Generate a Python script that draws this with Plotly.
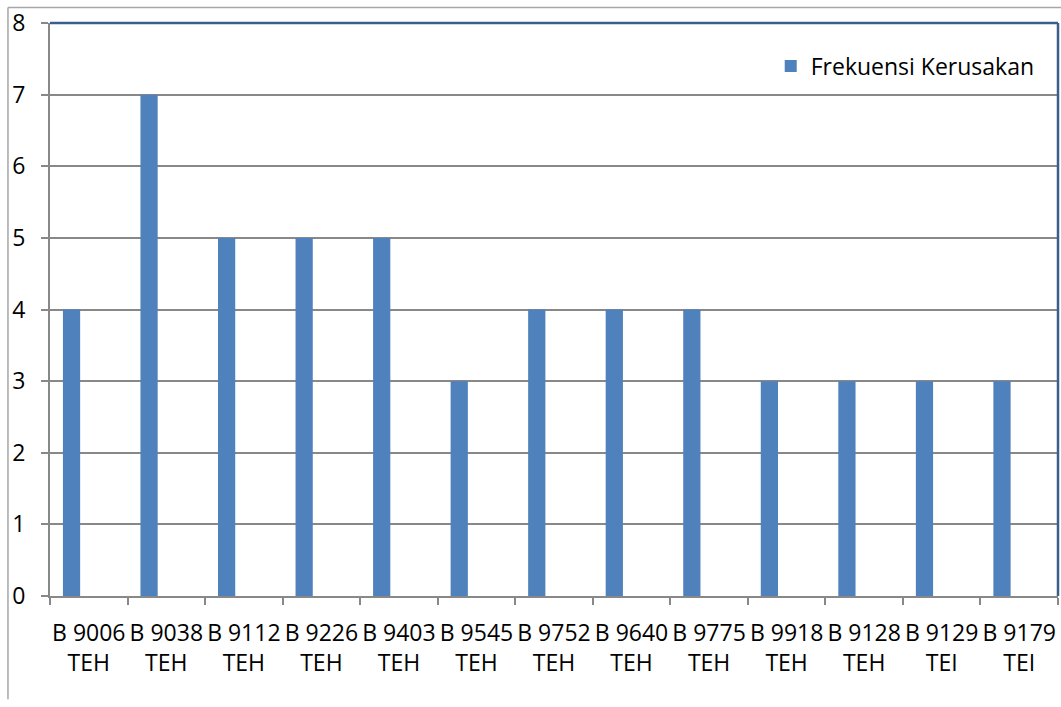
import plotly.graph_objects as go

categories = ["B 9006<br>TEH", "B 9038<br>TEH", "B 9112<br>TEH", "B 9226<br>TEH",
              "B 9403<br>TEH", "B 9545<br>TEH", "B 9752<br>TEH", "B 9640<br>TEH",
              "B 9775<br>TEH", "B 9918<br>TEH", "B 9128<br>TEH", "B 9129<br>TEI",
              "B 9179<br>TEI"]
frekuensi = [4, 7, 5, 5, 5, 3, 4, 4, 4, 3, 3, 3, 3]
series_name = "Frekuensi Kerusakan"
y_ticks = [0, 1, 2, 3, 4, 5, 6, 7, 8]

FONT = "Open Sans"
BAR = "#4F81BD"
GRID = "#888888"
BORDER = "#3A5F8C"

fig = go.Figure()
fig.add_trace(go.Bar(
    x=categories, y=frekuensi, name=series_name,
    marker=dict(color=BAR, line=dict(width=0)),
    width=1 / 4.5, offset=-1 / 3,
    showlegend=True,
))

fig.update_layout(
    width=1061, height=707,
    margin=dict(l=50, r=3, t=23, b=111, autoexpand=False),
    paper_bgcolor="white", plot_bgcolor="white",
    font=dict(family=FONT, size=21, color="#000000"),
    showlegend=True,
    legend=dict(x=0.715, y=0.925, xanchor="left", yanchor="middle",
                bgcolor="rgba(0,0,0,0)", font=dict(size=23),
                itemwidth=30),
    xaxis=dict(
        type="category", range=[-0.5, len(categories) - 0.5],
        showgrid=False, showline=True, linecolor=GRID, linewidth=2,
        ticks="outside", tickson="boundaries", ticklen=7, tickwidth=2,
        tickcolor=GRID, tickfont=dict(size=23), zeroline=False,
        ticklabelstandoff=15, tickangle=0, automargin=False,
    ),
    yaxis=dict(
        range=[0, 8], tickvals=y_ticks, showgrid=True, gridcolor=GRID,
        gridwidth=2, showline=True, linecolor=GRID, linewidth=2,
        ticks="outside", ticklen=7, tickwidth=2, tickcolor=GRID,
        tickfont=dict(size=23), zeroline=False, ticklabelstandoff=11,
        automargin=False,
    ),
    shapes=[
        # plot area border (top and right)
        dict(type="line", xref="paper", yref="paper", x0=0, x1=1, y0=1, y1=1,
             line=dict(color=BORDER, width=2.5), layer="above"),
        dict(type="line", xref="paper", yref="paper", x0=1, x1=1, y0=0, y1=1,
             line=dict(color=BORDER, width=2.5), layer="above"),
        # outer chart frame (top and left)
        dict(type="line", xref="paper", yref="paper", x0=-0.0417, x1=1.01,
             y0=1.0271, y1=1.0271, line=dict(color="#A6A6A6", width=1.5)),
        dict(type="line", xref="paper", yref="paper", x0=-0.0417, x1=-0.0417,
             y0=1.0271, y1=-0.18, line=dict(color="#A6A6A6", width=1.5)),
    ],
)

fig.write_html("out.html", config={"displayModeBar": False},
               post_script="document.body.style.margin='0';document.body.style.padding='0';")
